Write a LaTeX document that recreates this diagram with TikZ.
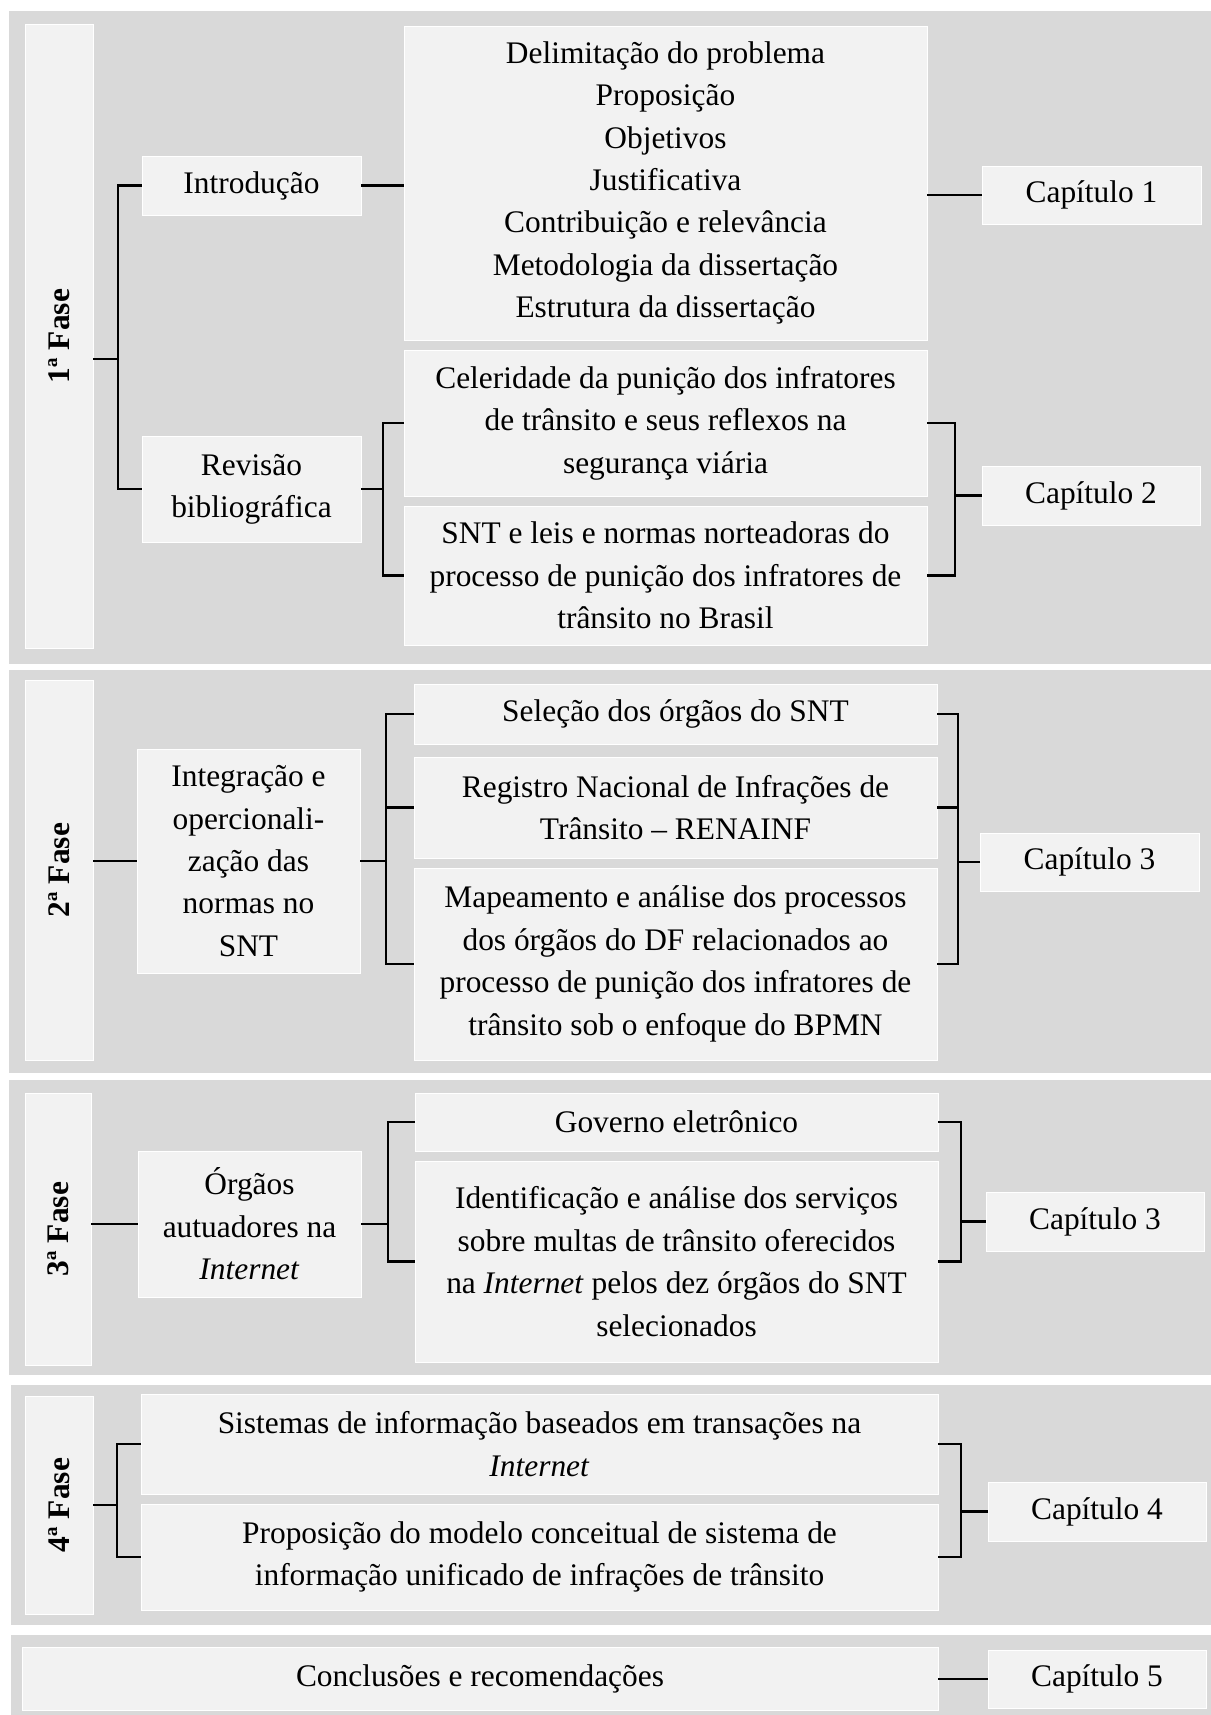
\documentclass[tikz,border=0pt]{standalone}
\usepackage{fontspec}
\setmainfont{Liberation Serif}
\usepackage{graphicx}
\definecolor{panelgray}{HTML}{D9D9D9}
\definecolor{cellgray}{HTML}{F2F2F2}
\tikzset{
  panel/.style={fill=panelgray},
  cellbox/.style={fill=cellgray, draw=white, line width=0.5pt, inner sep=0pt,
    outer sep=0pt, align=center, font=\fontsize{15.7}{21.2}\selectfont},
  conn/.style={draw=black, line width=1.1pt},
}
% \mkbox{name}{x1}{y1}{x2}{y2}{text}: a cell given by its corners (in px units)
\newcommand\mkbox[6]{%
  \node[cellbox, minimum width={(#4-#2)*0.5pt}, minimum height={(#5-#3)*0.5pt}]
    (#1) at ({(#2+#4)/2},{(#3+#5)/2}) {#6};}
\newcommand\phaselabel[1]{\rotatebox{90}{\bfseries #1}}

\begin{document}
\begin{tikzpicture}[x=0.5pt,y=-0.5pt]
\useasboundingbox (0,0) rectangle (1211,1715);
\fill[white] (0,0) rectangle (1211,1715);

% phase panels
\fill[panel] (9,11)   rectangle (1211,664);
\fill[panel] (9,670)  rectangle (1211,1073);
\fill[panel] (9,1080) rectangle (1211,1375);
\fill[panel] (11,1385) rectangle (1211,1625);
\fill[panel] (11,1635) rectangle (1211,1715);

% ---- 1st phase
\mkbox{ph1}{25}{24}{93}{648}{\phaselabel{1ª Fase}}
\mkbox{intro}{142}{156}{361}{215}{Introdução}
\mkbox{rev}{142}{436}{361}{542}{Revisão\\bibliográfica}
\mkbox{delim}{404}{26}{927}{340}{Delimitação do problema\\Proposição\\Objetivos\\Justificativa\\Contribuição e relevância\\Metodologia da dissertação\\Estrutura da dissertação}
\mkbox{cel}{404}{350}{927}{496}{Celeridade da punição dos infratores\\de trânsito e seus reflexos na\\segurança viária}
\mkbox{snt}{404}{506}{927}{645}{SNT e leis e normas norteadoras do\\processo de punição dos infratores de\\trânsito no Brasil}
\mkbox{cap1}{982}{166}{1201}{224}{Capítulo 1}
\mkbox{cap2}{982}{466}{1200}{525}{Capítulo 2}

\coordinate (sp1) at (118,0);
\coordinate (sp2) at (383,0);
\coordinate (sp3) at (955,0);
\draw[conn] (intro.west) -| (sp1 |- 0,359) |- (rev.west);
\draw[conn] (ph1.east |- 0,359) -- (sp1 |- 0,359);
\draw[conn] (intro.east) -- (intro.east -| delim.west);
\draw[conn] (cap1.west) -- (cap1.west -| delim.east);
\draw[conn] (cel.west) -| (sp2 |- rev.east) |- (snt.west);
\draw[conn] (rev.east) -- (rev.east -| sp2);
\draw[conn] (cel.east) -| (sp3 |- cap2.west) |- (snt.east);
\draw[conn] (cap2.west) -- (cap2.west -| sp3);

% ---- 2nd phase
\mkbox{ph2}{25}{680}{93}{1060}{\phaselabel{2ª Fase}}
\mkbox{integ}{137}{749}{360}{973}{Integração e\\opercionali-\\zação das\\normas no\\SNT}
\mkbox{sel}{414}{684}{937}{744}{Seleção dos órgãos do SNT}
\mkbox{reg}{414}{757}{937}{858}{Registro Nacional de Infrações de\\Trânsito – RENAINF}
\mkbox{map}{414}{868}{937}{1060}{Mapeamento e análise dos processos\\dos órgãos do DF relacionados ao\\processo de punição dos infratores de\\trânsito sob o enfoque do BPMN}
\mkbox{capb}{980}{833}{1199}{891}{Capítulo 3}

\coordinate (sp4) at (386,0);
\coordinate (sp5) at (958,0);
\draw[conn] (ph2.east |- integ.west) -- (integ.west);
\draw[conn] (sel.west) -| (sp4 |- integ.east) |- (map.west);
\draw[conn] (integ.east) -- (integ.east -| sp4);
\draw[conn] (reg.west) -- (reg.west -| sp4);
\draw[conn] (sel.east) -| (sp5 |- capb.west) |- (map.east);
\draw[conn] (reg.east) -- (reg.east -| sp5);
\draw[conn] (capb.west) -- (capb.west -| sp5);

% ---- 3rd phase
\mkbox{ph3}{25}{1093}{91}{1365}{\phaselabel{3ª Fase}}
\mkbox{org}{138}{1151}{361}{1297}{Órgãos\\autuadores na\\\textit{Internet}}
\mkbox{gov}{415}{1093}{938}{1151}{Governo eletrônico}
\mkbox{ident}{415}{1161}{938}{1362}{Identificação e análise dos serviços\\sobre multas de trânsito oferecidos\\na \textit{Internet} pelos dez órgãos do SNT\\selecionados}
\mkbox{capc}{986}{1192}{1204}{1251}{Capítulo 3}

\coordinate (sp6) at (388,0);
\coordinate (sp7) at (961,0);
\draw[conn] (ph3.east |- org.west) -- (org.west);
\draw[conn] (gov.west) -| (sp6 |- org.east) |- (ident.west);
\draw[conn] (org.east) -- (org.east -| sp6);
\draw[conn] (gov.east) -| (sp7 |- capc.west) |- (ident.east);
\draw[conn] (capc.west) -- (capc.west -| sp7);

% ---- 4th phase
\mkbox{ph4}{25}{1396}{93}{1614}{\phaselabel{4ª Fase}}
\mkbox{sis}{141}{1394}{938}{1494}{Sistemas de informação baseados em transações na\\\textit{Internet}}
\mkbox{prop}{141}{1504}{938}{1610}{Proposição do modelo conceitual de sistema de\\informação unificado de infrações de trânsito}
\mkbox{cap4}{988}{1482}{1206}{1541}{Capítulo 4}

\coordinate (sp8) at (117,0);
\coordinate (sp9) at (961,0);
\draw[conn] (sis.west) -| (sp8 |- ph4.east) |- (prop.west);
\draw[conn] (ph4.east) -- (ph4.east -| sp8);
\draw[conn] (sis.east) -| (sp9 |- cap4.west) |- (prop.east);
\draw[conn] (cap4.west) -- (cap4.west -| sp9);

% ---- conclusions
\mkbox{concl}{22}{1647}{938}{1710}{Conclusões e recomendações}
\mkbox{cap5}{988}{1650}{1206}{1708}{Capítulo 5}
\draw[conn] (cap5.west) -- (cap5.west -| concl.east);
\end{tikzpicture}
\end{document}
